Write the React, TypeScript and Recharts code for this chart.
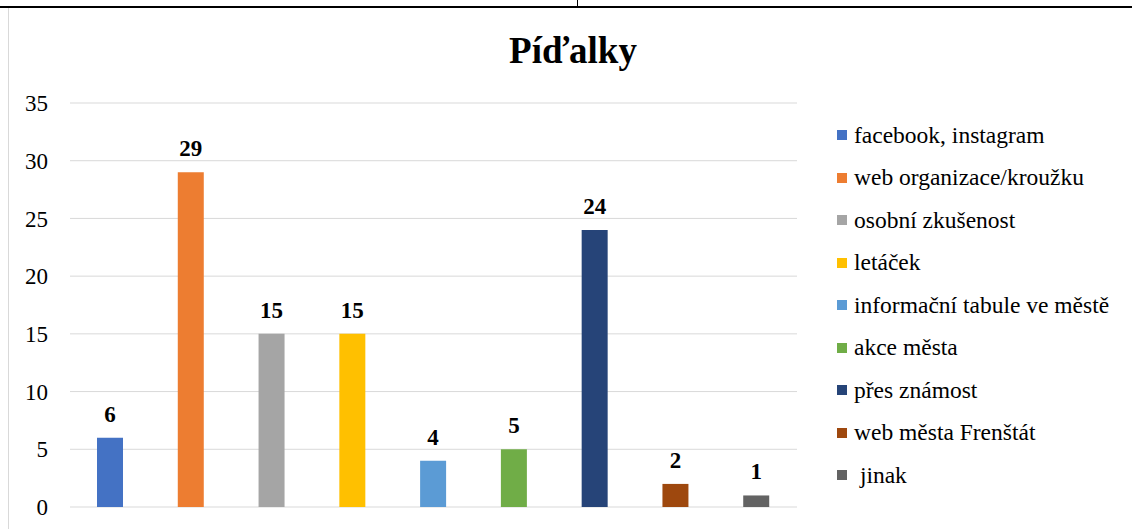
import React from 'react';
import { BarChart, Bar, XAxis, YAxis, CartesianGrid, Cell, LabelList } from 'recharts';

const categories = [
  'facebook, instagram',
  'web organizace/kroužku',
  'osobní zkušenost',
  'letáček',
  'informační tabule ve městě',
  'akce města',
  'přes známost',
  'web města Frenštát',
  ' jinak',
];
const counts = [6, 29, 15, 15, 4, 5, 24, 2, 1];
const colors = ['#4472C4', '#ED7D31', '#A5A5A5', '#FFC000', '#5B9BD5', '#70AD47', '#264478', '#9E480E', '#636363'];
const yTicks = [0, 5, 10, 15, 20, 25, 30, 35];

const rows = categories.map((name, i) => ({ name, value: counts[i] }));

const FONT = '"Liberation Serif", "Times New Roman", serif';

// legend drawn as plain html next to the plot
const LegendBox = () => (
  <div style={{ position: 'absolute', left: 837, top: 114, fontFamily: FONT, fontSize: 23.5, color: '#000' }}>
    {categories.map((c, i) => (
      <div key={c} style={{ display: 'flex', alignItems: 'center', height: 42.5 }}>
        <span style={{ width: 10, height: 10, background: colors[i], marginRight: 7, flexShrink: 0 }} />
        <span style={{ whiteSpace: 'pre' }}>{c}</span>
      </div>
    ))}
  </div>
);

export default function App() {
  return (
    <div style={{ position: 'absolute', left: 0, top: 0, width: 1132, height: 529, background: '#fff', overflow: 'hidden' }}>
      {/* page frame bits */}
      <div style={{ position: 'absolute', left: 0, top: 6, width: 1132, height: 2, background: '#000' }} />
      <div style={{ position: 'absolute', left: 577, top: 0, width: 1, height: 7, background: '#000' }} />
      <div style={{ position: 'absolute', left: 8, top: 8, width: 1, height: 521, background: '#d9d9d9' }} />
      <div
        style={{
          position: 'absolute',
          left: 0,
          width: 1146,
          top: 29,
          textAlign: 'center',
          fontFamily: FONT,
          fontWeight: 'bold',
          fontSize: 37,
          lineHeight: '44px',
        }}
      >
        Píďalky
      </div>
      <BarChart
        width={1132}
        height={529}
        data={rows}
        margin={{ top: 103, right: 335, bottom: 22, left: 0 }}
        style={{ position: 'absolute', left: 0, top: 0 }}
      >
        <CartesianGrid horizontal vertical={false} stroke="#d9d9d9" />
        <XAxis dataKey="name" tick={false} tickLine={false} axisLine={{ stroke: '#d9d9d9', strokeWidth: 2 }} height={0} />
        <YAxis
          domain={[0, 35]}
          ticks={yTicks}
          width={70}
          axisLine={false}
          tickLine={false}
          tickSize={0}
          tickMargin={22}
          tick={{ fontFamily: FONT, fontSize: 23, fill: '#000' }}
        />
        <Bar dataKey="value" barSize={26} isAnimationActive={false}>
          {rows.map((r, i) => (
            <Cell key={r.name} fill={colors[i]} />
          ))}
          <LabelList
            dataKey="value"
            position="top"
            offset={16}
            style={{ fontFamily: FONT, fontSize: 23, fontWeight: 'bold', fill: '#000' }}
          />
        </Bar>
      </BarChart>
      <LegendBox />
    </div>
  );
}
